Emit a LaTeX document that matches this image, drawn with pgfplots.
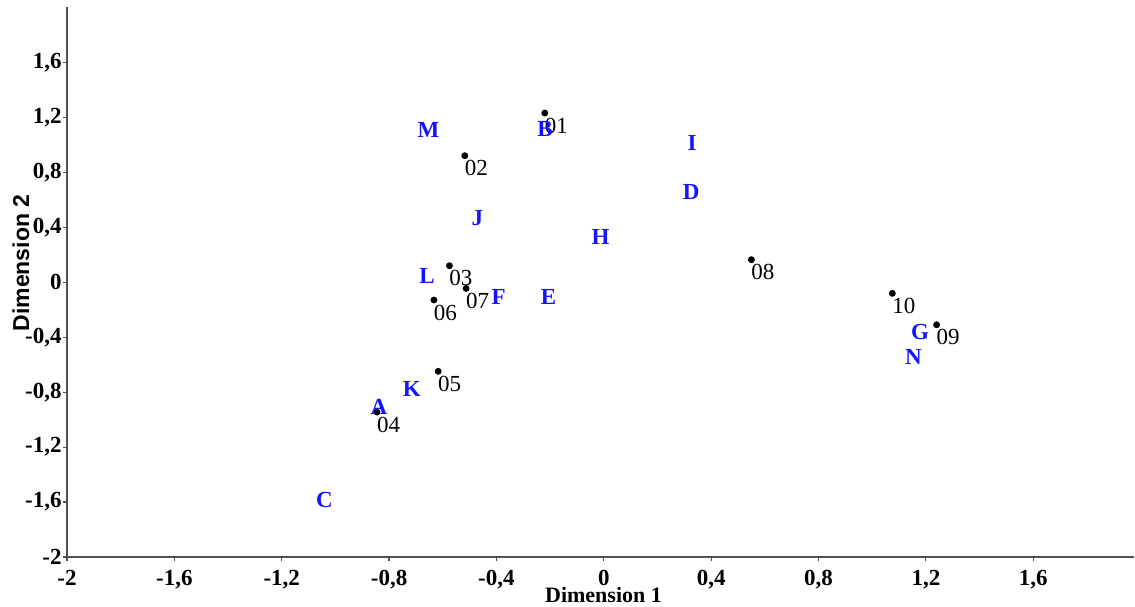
\documentclass[border=0pt]{standalone}
\usepackage{fontspec}
\setmainfont{Liberation Serif}
\newfontfamily\sansfam{Liberation Sans}
\usepackage{pgfplots}
\usepackage{pgfplotstable}
\pgfplotsset{compat=1.18}
\definecolor{axgray}{RGB}{80,80,80}
\definecolor{lblue}{RGB}{20,20,255}
\pgfplotstableread{
x y lab
-0.220 1.233 01
-0.518 0.922 02
-0.575 0.121 03
-0.845 -0.945 04
-0.617 -0.648 05
-0.633 -0.129 06
-0.513 -0.044 07
0.550 0.165 08
1.240 -0.309 09
1.075 -0.080 10
}\dots
\pgfplotstableread{
x y lab
-0.838 -0.908 A
-0.219 1.113 B
-1.041 -1.586 C
0.326 0.661 D
-0.206 -0.103 E
-0.392 -0.103 F
1.178 -0.358 G
-0.012 0.330 H
0.329 1.015 I
-0.471 0.468 J
-0.715 -0.777 K
-0.659 0.050 L
-0.653 1.113 M
1.154 -0.544 N
}\letters
\begin{document}
\begin{tikzpicture}
\begin{axis}[name=ax, at={(0,0)}, anchor=south west,
  scale only axis, width=533.3pt, height=275pt,
  xmin=-2, xmax=1.974, ymin=-2, ymax=2.005,
  axis x line=bottom, axis y line=left,
  axis line style={-, draw=axgray, line width=0.9pt},
  tick align=outside, major tick length=2pt,
  tick style={draw=axgray, line width=0.6pt},
  xtick={-2,-1.6,-1.2,-0.8,-0.4,0,0.4,0.8,1.2,1.6},
  xticklabels={-2,{-1,6},{-1,2},{-0,8},{-0,4},0,{0,4},{0,8},{1,2},{1,6}},
  ytick={-2,-1.6,-1.2,-0.8,-0.4,0,0.4,0.8,1.2,1.6},
  yticklabels={-2,{-1,6},{-1,2},{-0,8},{-0,4},0,{0,4},{0,8},{1,2},{1,6}},
  ticklabel style={font=\bfseries\fontsize{11.5}{13}\selectfont},
  xticklabel style={yshift=-1.2pt},
  yticklabel style={xshift=2.8pt},
  xlabel={Dimension 1}, ylabel={Dimension 2},
  xlabel style={at={(axis description cs:0.503,-0.0691)}, anchor=center, font=\bfseries\fontsize{11}{13}\selectfont},
  ylabel style={at={(axis description cs:-0.0432,0.5346)}, anchor=center, font=\sansfam\bfseries\fontsize{11.5}{13}\selectfont},
  clip=false,
]
\addplot[only marks, mark=*, mark size=1.5pt, black,
  point meta=explicit symbolic, nodes near coords,
  nodes near coords style={anchor=center, xshift=5.75pt, yshift=-6.3pt, text=black, font=\fontsize{11.5}{13}\selectfont}]
  table[x=x, y=y, meta=lab] {\dots};
\addplot[draw=none, mark=none,
  point meta=explicit symbolic, nodes near coords,
  nodes near coords style={anchor=center, text=lblue, font=\bfseries\fontsize{11.5}{13}\selectfont}]
  table[x=x, y=y, meta=lab] {\letters};
\end{axis}
\pgfresetboundingbox
\path[use as bounding box] (-33.5pt,-24.5pt) rectangle (534pt,278.5pt);
\end{tikzpicture}
\end{document}
